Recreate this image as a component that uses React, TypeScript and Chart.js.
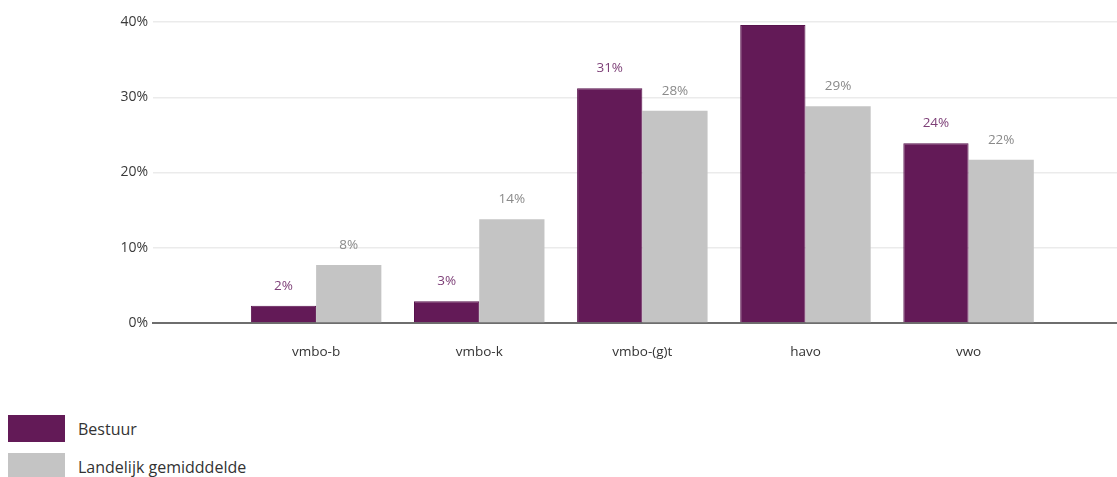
import React, { useEffect, useRef } from "react";
import { Chart, registerables } from "chart.js";

Chart.register(...registerables);

const categories = ["vmbo-b", "vmbo-k", "vmbo-(g)t", "havo", "vwo"];
const bestuurValues = [2.3, 2.9, 31.2, 39.6, 23.9];
const landelijkValues = [7.7, 13.8, 28.2, 28.8, 21.7];
const seriesNames = ["Bestuur", "Landelijk gemidddelde"];
const seriesColors = ["#631a57", "#c4c4c4"];
const valueLabelColors = ["#7d3f77", "#8a8a8a"];
const yTicks = [0, 10, 20, 30, 40];

const FONT = "'Open Sans', 'DejaVu Sans', sans-serif";

// Writes the rounded value above each bar, skipping labels that would fall above the plot area.
const valueLabels = {
  id: "valueLabels",
  afterDatasetsDraw(chart: any) {
    const { ctx, chartArea } = chart;
    ctx.save();
    ctx.font = `13.5px ${FONT}`;
    ctx.textAlign = "center";
    ctx.textBaseline = "middle";
    chart.data.datasets.forEach((ds: any, di: number) => {
      const meta = chart.getDatasetMeta(di);
      meta.data.forEach((bar: any, i: number) => {
        const y = bar.y - 20;
        if (y - 7 < chartArea.top) return;
        ctx.fillStyle = valueLabelColors[di];
        ctx.fillText(`${Math.round(ds.data[i].y)}%`, bar.x, y);
      });
    });
    ctx.restore();
  },
};

export default function App() {
  const canvasRef = useRef<HTMLCanvasElement | null>(null);

  useEffect(() => {
    document.body.style.margin = "0";
    const canvas = canvasRef.current;
    if (!canvas) return;
    const toPoints = (vals: number[]) => vals.map((v, i) => ({ x: i + 1, y: v }));
    const chart = new Chart(canvas, {
      type: "bar",
      data: {
        datasets: [
          {
            label: seriesNames[0],
            data: toPoints(bestuurValues),
            backgroundColor: seriesColors[0],
            borderColor: "#58134d",
            borderWidth: 1,
          },
          {
            label: seriesNames[1],
            data: toPoints(landelijkValues),
            backgroundColor: seriesColors[1],
            borderWidth: 0,
          },
        ],
      },
      options: {
        animation: false,
        responsive: false,
        maintainAspectRatio: false,
        categoryPercentage: 0.8,
        barPercentage: 1,
        layout: { padding: { top: 22, right: 0, left: 0, bottom: 0 } },
        plugins: {
          legend: { display: false },
          tooltip: { enabled: false },
        },
        scales: {
          x: {
            type: "linear",
            offset: false,
            min: 0,
            max: 5.91,
            grid: { display: false, drawTicks: false, offset: false },
            border: { display: true, color: "#6e6e6e", width: 2 },
            afterBuildTicks: (axis: any) => {
              axis.ticks = categories.map((_, i) => ({ value: i + 1 }));
            },
            afterFit: (axis: any) => {
              axis.height = 57;
            },
            ticks: {
              padding: 21,
              color: "#333333",
              font: { family: FONT, size: 13.5 },
              maxRotation: 0,
              autoSkip: false,
              callback: (v: any) => categories[Number(v) - 1] ?? "",
            },
          },
          y: {
            min: 0,
            max: 40,
            afterBuildTicks: (axis: any) => {
              axis.ticks = yTicks.map((v) => ({ value: v }));
            },
            afterFit: (axis: any) => {
              axis.width = 153;
            },
            grid: { color: "#ebebeb", lineWidth: 1.5, drawTicks: false },
            border: { display: false },
            ticks: {
              padding: 5,
              color: "#3a3a3a",
              font: { family: FONT, size: 14 },
              callback: (v: any) => `${v}%`,
            },
          },
        },
      },
      plugins: [valueLabels],
    } as any);
    return () => chart.destroy();
  }, []);

  return (
    <div style={{ position: "relative", width: 1117, height: 477, background: "#ffffff", overflow: "hidden" }}>
      <canvas ref={canvasRef} width={1117} height={380} style={{ display: "block" }} />
      {seriesNames.map((name, i) => (
        <div
          key={name}
          style={{
            position: "absolute",
            left: 8,
            top: 415 + i * 38,
            display: "flex",
            alignItems: "center",
            fontFamily: FONT,
            fontSize: 16,
            color: "#333333",
          }}
        >
          <span
            style={{
              display: "inline-block",
              width: 57,
              height: 27,
              background: seriesColors[i],
              marginRight: 13,
            }}
          />
          {name}
        </div>
      ))}
    </div>
  );
}
